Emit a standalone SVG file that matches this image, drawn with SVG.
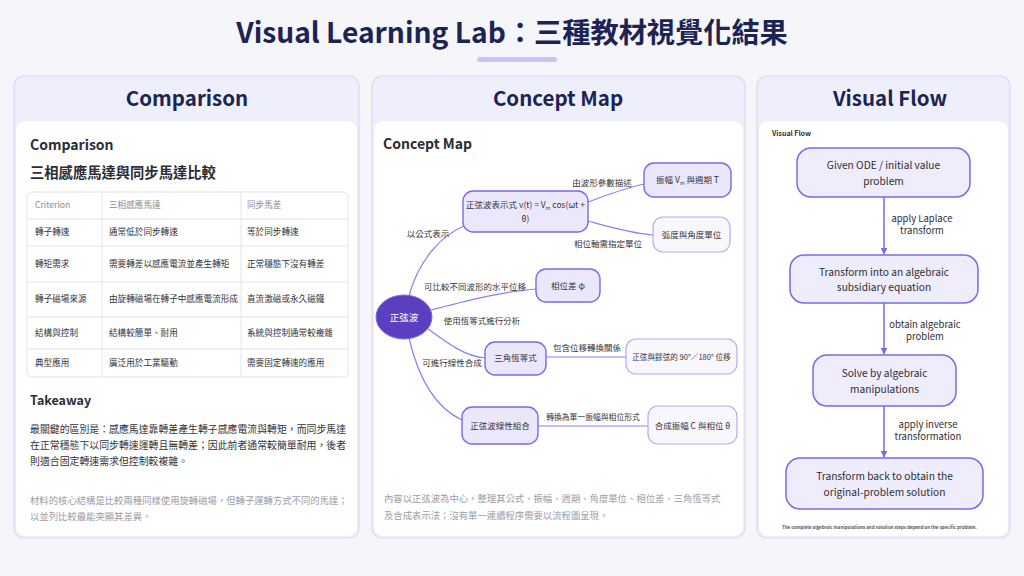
<svg xmlns="http://www.w3.org/2000/svg" width="1024" height="576" viewBox="0 0 1024 576">
<defs>
<style>
text{font-family:"Noto Sans CJK TC","Noto Sans",sans-serif;}
.title{font-size:28.2px;font-weight:700;fill:#1b2452;}
.ph{font-size:20.5px;font-weight:700;fill:#1b2452;text-anchor:middle;}
.panel{fill:#efeefb;stroke:#dcd8f6;stroke-width:1.2;}
.card{fill:#ffffff;}
.sub{font-size:14px;font-weight:700;fill:#2d2d33;}
.h2{font-size:14.3px;font-weight:700;fill:#2d2d33;}
.th{font-size:8.6px;fill:#8a8a90;}
.td{font-size:8.6px;fill:#333338;}
.grid{stroke:#e4e4ea;stroke-width:1;fill:none;}
.body{font-size:9.9px;fill:#333338;}
.note{font-size:9.35px;fill:#9d9da3;}
.cn{fill:#ebe8fc;stroke:#7b68ee;stroke-width:1.4;}
.cl{fill:#f8f7fe;stroke:#b4a9f3;stroke-width:1.2;}
.ct{font-size:8.5px;fill:#333338;text-anchor:middle;}
.el{font-size:8.5px;fill:#333338;text-anchor:middle;}
.edge{fill:none;stroke:#8d7ff0;stroke-width:1.2;}
.fn{fill:#efedfc;stroke:#7b68ee;stroke-width:1.5;}
.ft{font-size:10.2px;fill:#2d2d33;text-anchor:middle;}
.fl{font-size:9.5px;fill:#2d2d33;text-anchor:middle;}
.arrow{stroke:#7b68ee;stroke-width:1.5;fill:none;marker-end:url(#ah);}
</style>
<marker id="ah" viewBox="0 0 10 10" refX="9" refY="5" markerWidth="7" markerHeight="7" orient="auto" markerUnits="userSpaceOnUse">
<path d="M0,0 L10,5 L0,10 z" fill="#7b68ee"/>
</marker>
</defs>
<rect width="1024" height="576" fill="#f5f5fa"/>
<g id="title">
<text class="title" x="512" y="43" text-anchor="middle">Visual Learning Lab：三種教材視覺化結果</text>
<rect x="477" y="57" width="80" height="5" rx="2.5" fill="#c9c3f6"/>
</g>

<g id="panel-comparison">
<rect class="panel" x="14" y="76" width="345" height="462" rx="10"/>
<text class="ph" x="187" y="106">Comparison</text>
<rect class="card" x="16" y="121" width="341" height="415" rx="9"/>
<text class="sub" x="30" y="150">Comparison</text>
<text class="h2" x="30" y="178">三相感應馬達與同步馬達比較</text>
<g id="table">
<rect class="grid" x="27" y="192" width="321" height="185" rx="5"/>
<path class="grid" d="M27,219 H348 M27,246 H348 M27,282 H348 M27,317 H348 M27,349 H348 M102,192 V377 M241,192 V377"/>
<text class="th" x="35" y="208">Criterion</text>
<text class="th" x="109" y="208">三相感應馬達</text>
<text class="th" x="247" y="208">同步馬差</text>
<text class="td" x="35" y="235">轉子轉速</text>
<text class="td" x="109" y="235">通常低於同步轉速</text>
<text class="td" x="247" y="235">等於同步轉速</text>
<text class="td" x="35" y="267">轉矩需求</text>
<text class="td" x="109" y="267">需要轉差以感應電流並產生轉矩</text>
<text class="td" x="247" y="267">正常穩態下沒有轉差</text>
<text class="td" x="35" y="302">轉子磁場來源</text>
<text class="td" x="109" y="302">由旋轉磁場在轉子中感應電流形成</text>
<text class="td" x="247" y="302">直流激磁或永久磁鐵</text>
<text class="td" x="35" y="336">結構與控制</text>
<text class="td" x="109" y="336">結構較簡單、耐用</text>
<text class="td" x="247" y="336">系統與控制通常較複雜</text>
<text class="td" x="35" y="366">典型應用</text>
<text class="td" x="109" y="366">廣泛用於工業驅動</text>
<text class="td" x="247" y="366">需要固定轉速的應用</text>
</g>
<text class="sub" x="30" y="405" style="font-size:12.5px">Takeaway</text>
<text class="body" x="30" y="433">最關鍵的區別是：感應馬達靠轉差產生轉子感應電流與轉矩，而同步馬達</text>
<text class="body" x="30" y="449">在正常穩態下以同步轉速運轉且無轉差；因此前者通常較簡單耐用，後者</text>
<text class="body" x="30" y="465">則適合固定轉速需求但控制較複雜。</text>
<text class="note" x="30" y="504">材料的核心結構是比較兩種同樣使用旋轉磁場，但轉子運轉方式不同的馬達；</text>
<text class="note" x="30" y="520">以並列比較最能突顯其差異。</text>
</g>

<g id="panel-concept">
<rect class="panel" x="372" y="76" width="373" height="462" rx="10"/>
<text class="ph" x="558" y="106">Concept Map</text>
<rect class="card" x="374" y="121" width="369" height="415" rx="9"/>
<text class="sub" x="383" y="149">Concept Map</text>
<text class="note" x="384" y="502">內容以正弦波為中心，整理其公式、振幅、週期、角度單位、相位差、三角恆等式</text>
<text class="note" x="384" y="519">及合成表示法；沒有單一連續程序需要以流程圖呈現。</text>
</g>

<g id="panel-flow">
<rect class="panel" x="757" y="76" width="253" height="462" rx="10"/>
<text class="ph" x="890" y="106">Visual Flow</text>
<rect class="card" x="759" y="121" width="249" height="415" rx="9"/>
<text x="772" y="136" style="font-size:7px;font-weight:700;fill:#2d2d33">Visual Flow</text>
<text x="879.5" y="529" text-anchor="middle" textLength="195" lengthAdjust="spacingAndGlyphs" style="font-size:4.6px;font-weight:700;fill:#55555c">The complete algebraic manipulations and solution steps depend on the specific problem.</text>
</g>

<g id="connectors">
<path class="edge" d="M409,296 C418,262 440,236 464,226"/>
<path class="edge" d="M431,310 C470,300 500,292 536,289"/>
<path class="edge" d="M428,329 C450,345 465,356 485,358"/>
<path class="edge" d="M409,338 C420,385 440,410 462,420"/>
<path class="edge" d="M588,202 C610,194 625,188 644,184"/>
<path class="edge" d="M588,221 C610,227 630,233 653,235"/>
<path class="edge" d="M546,357 L626,357"/>
<path class="edge" d="M538,426 L648,426"/>
<text class="el" x="428" y="237">以公式表示</text>
<text class="el" x="602" y="186">由波形參數描述</text>
<text class="el" x="608" y="247">相位軸需指定單位</text>
<text class="el" x="475" y="290">可比較不同波形的水平位移</text>
<text class="el" x="482" y="324">使用恆等式進行分析</text>
<text class="el" x="587" y="351">包含位移轉換關係</text>
<text class="el" x="452" y="366">可進行線性合成</text>
<text class="el" x="593" y="420" style="font-size:7.8px">轉換為單一振幅與相位形式</text>
<line class="arrow" x1="884" y1="197" x2="884" y2="254"/>
<line class="arrow" x1="884" y1="303" x2="884" y2="354"/>
<line class="arrow" x1="884" y1="406" x2="884" y2="457"/>
<text class="fl" x="922" y="222">apply Laplace</text>
<text class="fl" x="922" y="234">transform</text>
<text class="fl" x="925" y="328">obtain algebraic</text>
<text class="fl" x="925" y="340">problem</text>
<text class="fl" x="928" y="428">apply inverse</text>
<text class="fl" x="928" y="440">transformation</text>
</g>

<g id="node-sine">
<ellipse cx="404" cy="317" rx="28" ry="22" fill="#5b3fc0" stroke="#7b68ee" stroke-width="1"/>
<text x="404" y="320.5" style="font-size:9.5px;fill:#ffffff;text-anchor:middle">正弦波</text>
</g>
<g id="node-formula">
<rect class="cn" x="463" y="191" width="125" height="41" rx="10"/>
<text class="ct" x="525.5" y="208">正弦波表示式 v(t) = V<tspan style="font-size:5px" dy="1.5">m</tspan><tspan dy="-1.5"> cos(ωt +</tspan></text>
<text class="ct" x="525.5" y="222">θ)</text>
</g>
<g id="node-amp">
<rect class="cn" x="644" y="163" width="87" height="34" rx="10"/>
<text class="ct" x="687.5" y="183">振幅 V<tspan style="font-size:5px" dy="1.5">m</tspan><tspan dy="-1.5"> 與週期 T</tspan></text>
</g>
<g id="node-unit">
<rect class="cl" x="653" y="217" width="77" height="35" rx="10"/>
<text class="ct" x="691.5" y="238">弧度與角度單位</text>
</g>
<g id="node-phase">
<rect class="cn" x="536" y="269" width="64" height="33" rx="10"/>
<text class="ct" x="568" y="289">相位差 φ</text>
</g>
<g id="node-trig">
<rect class="cn" x="485" y="342" width="61" height="33" rx="10"/>
<text class="ct" x="515.5" y="361">三角恆等式</text>
</g>
<g id="node-shift">
<rect class="cl" x="626" y="339" width="111" height="35" rx="10"/>
<text class="ct" x="681.5" y="360" style="font-size:7.6px">正弦與餘弦的 90°／180° 位移</text>
</g>
<g id="node-linear">
<rect class="cn" x="462" y="407" width="76" height="37" rx="10"/>
<text class="ct" x="500" y="429">正弦波線性組合</text>
</g>
<g id="node-result">
<rect class="cl" x="648" y="406" width="89" height="38" rx="10"/>
<text class="ct" x="692.5" y="429">合成振幅 C 與相位 θ</text>
</g>

<g id="flow-1">
<rect class="fn" x="797" y="148" width="173" height="49" rx="14"/>
<text class="ft" x="883.5" y="169">Given ODE / initial value</text>
<text class="ft" x="883.5" y="185">problem</text>
</g>
<g id="flow-2">
<rect class="fn" x="790" y="255" width="188" height="48" rx="14"/>
<text class="ft" x="884" y="276">Transform into an algebraic</text>
<text class="ft" x="884" y="291">subsidiary equation</text>
</g>
<g id="flow-3">
<rect class="fn" x="813" y="355" width="143" height="51" rx="14"/>
<text class="ft" x="884.5" y="377">Solve by algebraic</text>
<text class="ft" x="884.5" y="393">manipulations</text>
</g>
<g id="flow-4">
<rect class="fn" x="786" y="458" width="197" height="51" rx="14"/>
<text class="ft" x="884.5" y="480">Transform back to obtain the</text>
<text class="ft" x="884.5" y="496">original-problem solution</text>
</g>
</svg>
